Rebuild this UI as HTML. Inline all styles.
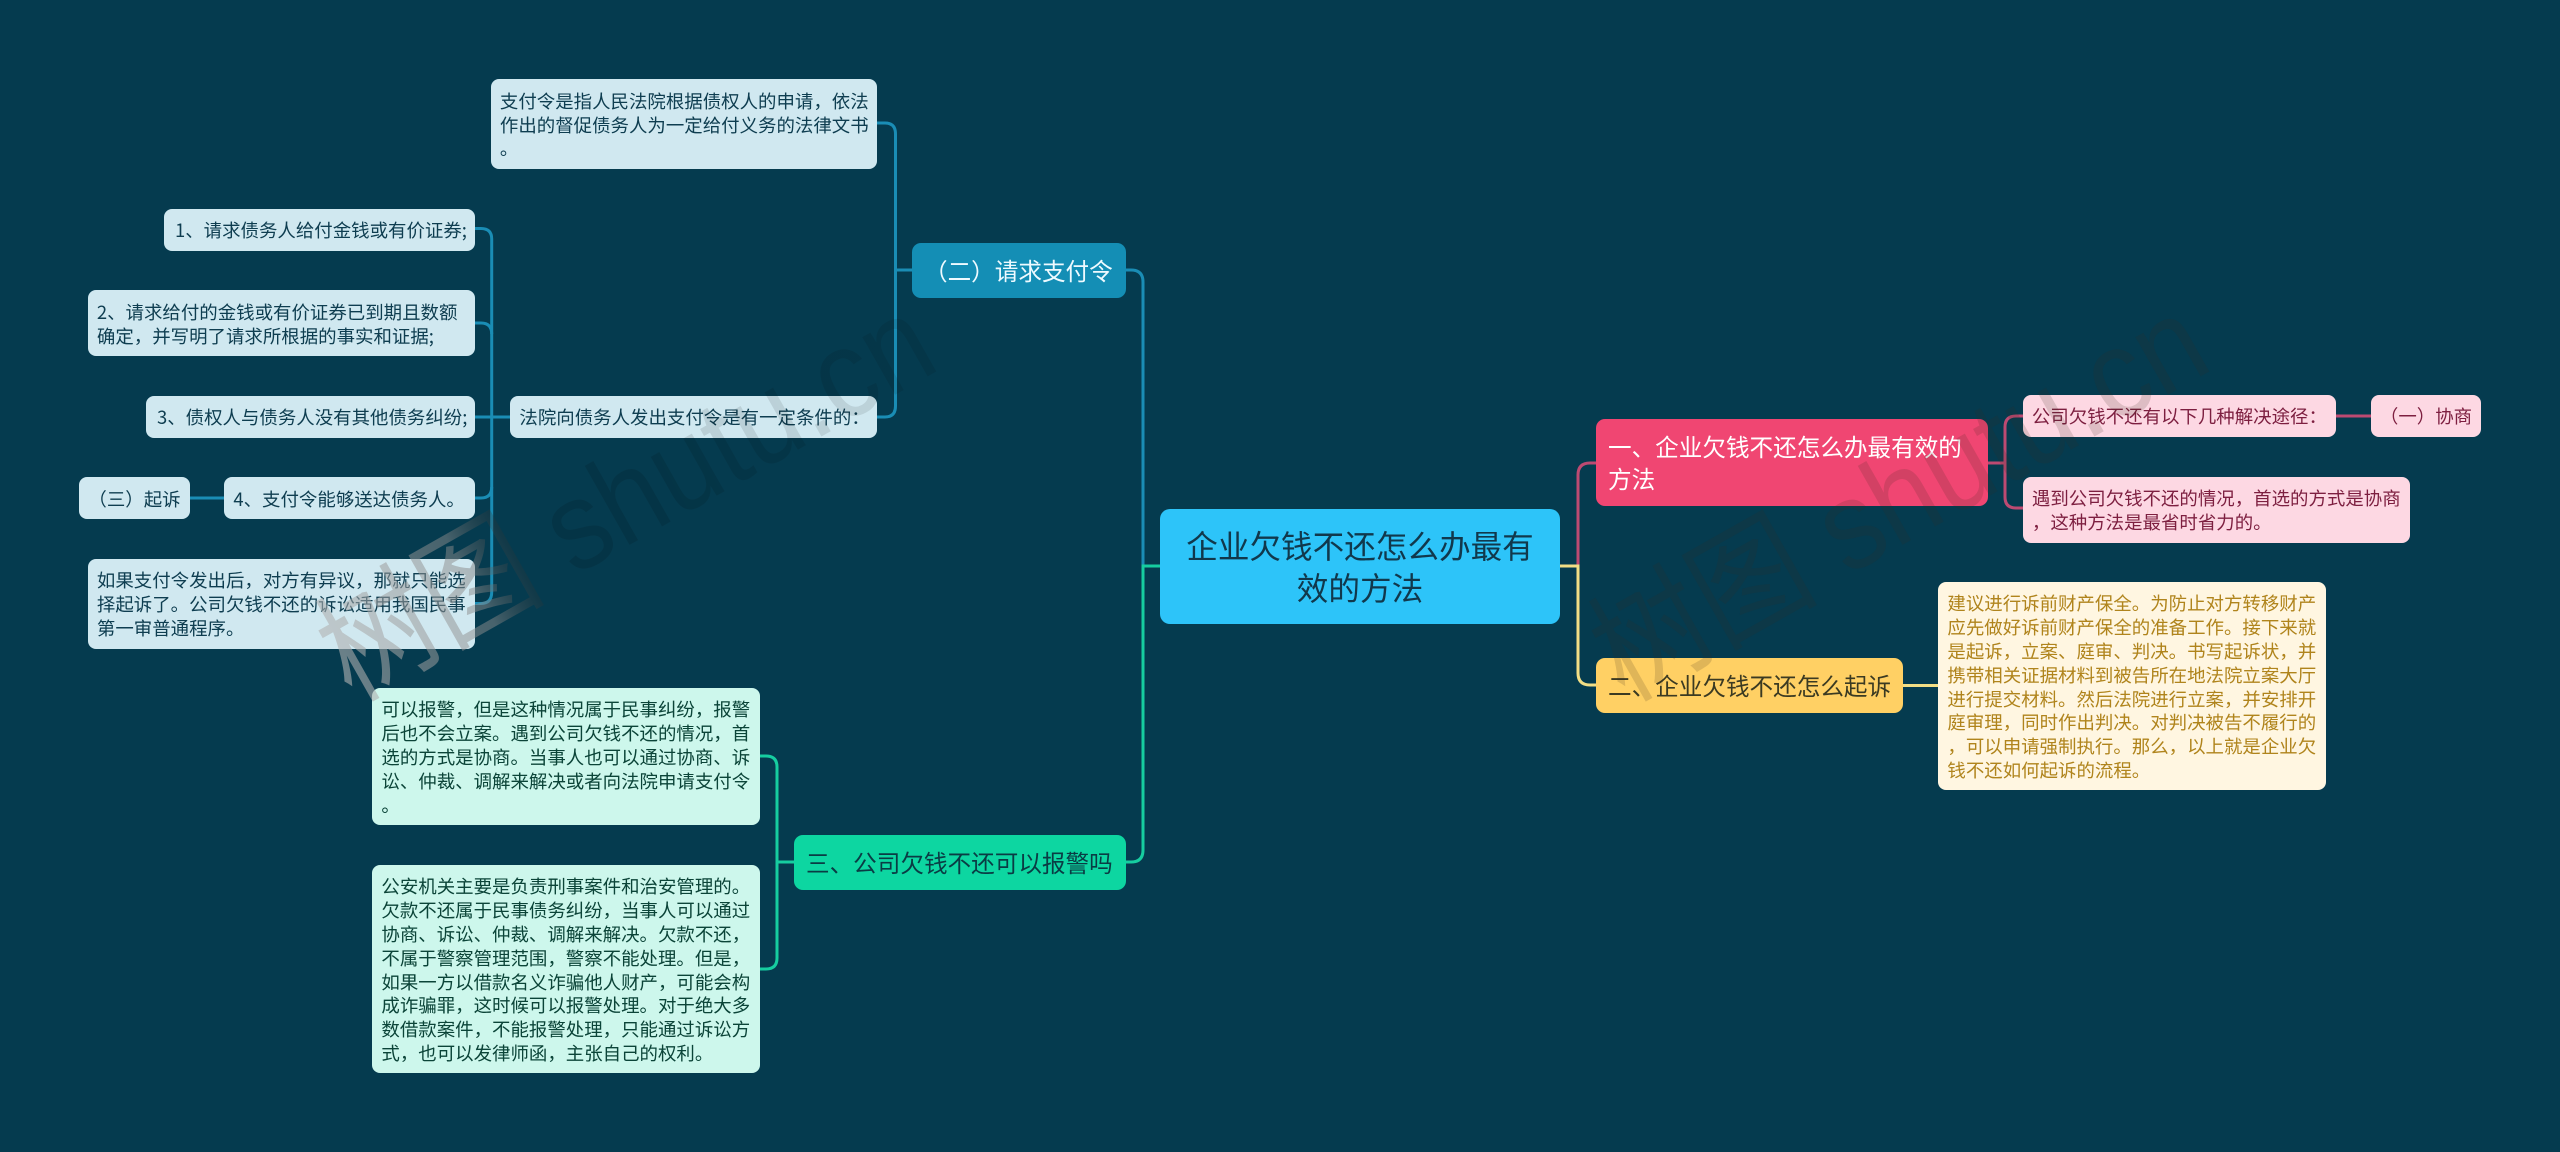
<!DOCTYPE html>
<html lang="zh-CN">
<head>
<meta charset="utf-8">
<style>
html,body{margin:0;padding:0;width:2560px;height:1152px;overflow:hidden;background:#053b4f}
body{position:relative;font-family:"Liberation Sans","Noto Sans CJK SC",sans-serif}
.n{position:absolute;display:flex;align-items:center;box-sizing:border-box;border-radius:8px;white-space:nowrap;font-family:"Noto Sans CJK SC","Liberation Sans",sans-serif}
.l{font-size:18.45px;line-height:23.9px;padding-left:9.4px;padding-top:3px}
.bl{background:#d0e8f0;color:#0e3d50}
.gl{background:#cdf7ec;color:#0b4438}
.pl{background:#fdd8e3;color:#7d1f40}
.yl{background:#fff6e1;color:#b0841c}
.b{font-size:23.6px;line-height:32px;padding-left:12px;padding-bottom:2px;border-radius:9px}
svg{position:absolute;left:0;top:0}
</style>
</head>
<body>
<svg width="2560" height="1152" fill="none" stroke-width="3">
  <g stroke="#1a8db5">
    <path d="M1160 566H1143V282Q1143 270 1131 270H1126"/>
    <path d="M912 270H895.5"/>
    <path d="M877 123H885Q895.5 123 895.5 134V406Q895.5 417 885 417H877"/>
    <path d="M510 417H475"/>
    <path d="M475 228.5H481Q491.7 228.5 491.7 239V592Q491.7 603.5 481 603.5H475"/>
    <path d="M475 323H481Q491.7 323 491.7 334"/>
    <path d="M475 498H481Q491.7 498 491.7 487"/>
    <path d="M224 498H189.5"/>
  </g>
  <g stroke="#16cda0">
    <path d="M1160 566H1143V850Q1143 862 1131 862H1125"/>
    <path d="M794 862H777"/>
    <path d="M760 756H766Q777 756 777 767V958Q777 969 766 969H760"/>
  </g>
  <g stroke="#bd4a72">
    <path d="M1578 566V475Q1578 463 1590 463H1596"/>
    <path d="M1987 463H2005"/>
    <path d="M2023 416H2016Q2005 416 2005 427V497Q2005 508 2016 508H2023"/>
    <path d="M2335 416H2371"/>
  </g>
  <g stroke="#f2de85">
    <path d="M1560 566H1578V673Q1578 685 1590 685H1596"/>
    <path d="M1903 685.5H1938"/>
  </g>
</svg>

<div class="n" style="left:1160px;top:509px;width:400px;height:115px;background:#2dc4f9;color:#11384c;font-size:31.6px;line-height:42.5px;padding-bottom:1px;justify-content:center;text-align:center;border-radius:10px"><div>企业欠钱不还怎么办最有<br>效的方法</div></div>

<div class="n b" style="left:912px;top:243px;width:214px;height:55px;background:#148eb5;color:#eefaff">（二）请求支付令</div>
<div class="n b" style="left:794px;top:835px;width:331.5px;height:55px;background:#0dd6a1;color:#0a3c44">三、公司欠钱不还可以报警吗</div>
<div class="n b" style="left:1596px;top:419px;width:391.5px;height:87px;background:#f04672;color:#fff"><div>一、企业欠钱不还怎么办最有效的<br>方法</div></div>
<div class="n b" style="left:1596px;top:658px;width:307px;height:55px;background:#ffd064;color:#3b3a22">二、企业欠钱不还怎么起诉</div>

<div class="n l bl" style="left:490.5px;top:79px;width:386.5px;height:90px"><div>支付令是指人民法院根据债权人的申请，依法<br>作出的督促债务人为一定给付义务的法律文书<br>。</div></div>
<div class="n l bl" style="left:164px;top:208.5px;width:311px;height:42px;padding-left:11px">1、请求债务人给付金钱或有价证券;</div>
<div class="n l bl" style="left:87.5px;top:290px;width:387.5px;height:66px"><div>2、请求给付的金钱或有价证券已到期且数额<br>确定，并写明了请求所根据的事实和证据;</div></div>
<div class="n l bl" style="left:146px;top:395.5px;width:329px;height:42px;padding-left:11px">3、债权人与债务人没有其他债务纠纷;</div>
<div class="n l bl" style="left:510px;top:395.5px;width:367px;height:42px">法院向债务人发出支付令是有一定条件的：</div>
<div class="n l bl" style="left:224px;top:477px;width:251px;height:42px">4、支付令能够送达债务人。</div>
<div class="n l bl" style="left:79px;top:477px;width:110.5px;height:42px">（三）起诉</div>
<div class="n l bl" style="left:87.5px;top:558.5px;width:387.5px;height:90px"><div>如果支付令发出后，对方有异议，那就只能选<br>择起诉了。公司欠钱不还的诉讼适用我国民事<br>第一审普通程序。</div></div>

<div class="n l gl" style="left:372px;top:688px;width:387.5px;height:137px"><div>可以报警，但是这种情况属于民事纠纷，报警<br>后也不会立案。遇到公司欠钱不还的情况，首<br>选的方式是协商。当事人也可以通过协商、诉<br>讼、仲裁、调解来解决或者向法院申请支付令<br>。</div></div>
<div class="n l gl" style="left:372px;top:865px;width:387.5px;height:208px"><div>公安机关主要是负责刑事案件和治安管理的。<br>欠款不还属于民事债务纠纷，当事人可以通过<br>协商、诉讼、仲裁、调解来解决。欠款不还，<br>不属于警察管理范围，警察不能处理。但是，<br>如果一方以借款名义诈骗他人财产，可能会构<br>成诈骗罪，这时候可以报警处理。对于绝大多<br>数借款案件，不能报警处理，只能通过诉讼方<br>式，也可以发律师函，主张自己的权利。</div></div>

<div class="n l pl" style="left:2022.5px;top:394.5px;width:313px;height:42px">公司欠钱不还有以下几种解决途径：</div>
<div class="n l pl" style="left:2370.5px;top:394.5px;width:110.5px;height:42px">（一）协商</div>
<div class="n l pl" style="left:2022.5px;top:476.5px;width:387px;height:66px"><div>遇到公司欠钱不还的情况，首选的方式是协商<br>，这种方法是最省时省力的。</div></div>
<div class="n l yl" style="left:1938px;top:582px;width:387.5px;height:208px"><div>建议进行诉前财产保全。为防止对方转移财产<br>应先做好诉前财产保全的准备工作。接下来就<br>是起诉，立案、庭审、判决。书写起诉状，并<br>携带相关证据材料到被告所在地法院立案大厅<br>进行提交材料。然后法院进行立案，并安排开<br>庭审理，同时作出判决。对判决被告不履行的<br>，可以申请强制执行。那么，以上就是企业欠<br>钱不还如何起诉的流程。</div></div>

<svg width="2560" height="1152" style="pointer-events:none">
  <defs>
    <linearGradient id="wm" gradientUnits="userSpaceOnUse" x1="0" y1="0" x2="680" y2="0">
      <stop offset="0" stop-color="#b4b4b4" stop-opacity=".6"/>
      <stop offset=".24" stop-color="#8a8a8a" stop-opacity=".5"/>
      <stop offset=".36" stop-color="#000" stop-opacity=".12"/>
      <stop offset="1" stop-color="#000" stop-opacity=".09"/>
    </linearGradient>
  </defs>
  <text transform="translate(352,702) rotate(-29.5) scale(1,1.12)" font-size="112" fill="url(#wm)" font-family="'Liberation Sans','Noto Sans CJK SC',sans-serif">树图 shutu.cn</text>
  <text transform="translate(1625,702) rotate(-29.5) scale(1,1.12)" font-size="112" fill="#3a2a20" fill-opacity=".16" font-family="'Liberation Sans','Noto Sans CJK SC',sans-serif">树图 shutu.cn</text>
</svg>
</body>
</html>
